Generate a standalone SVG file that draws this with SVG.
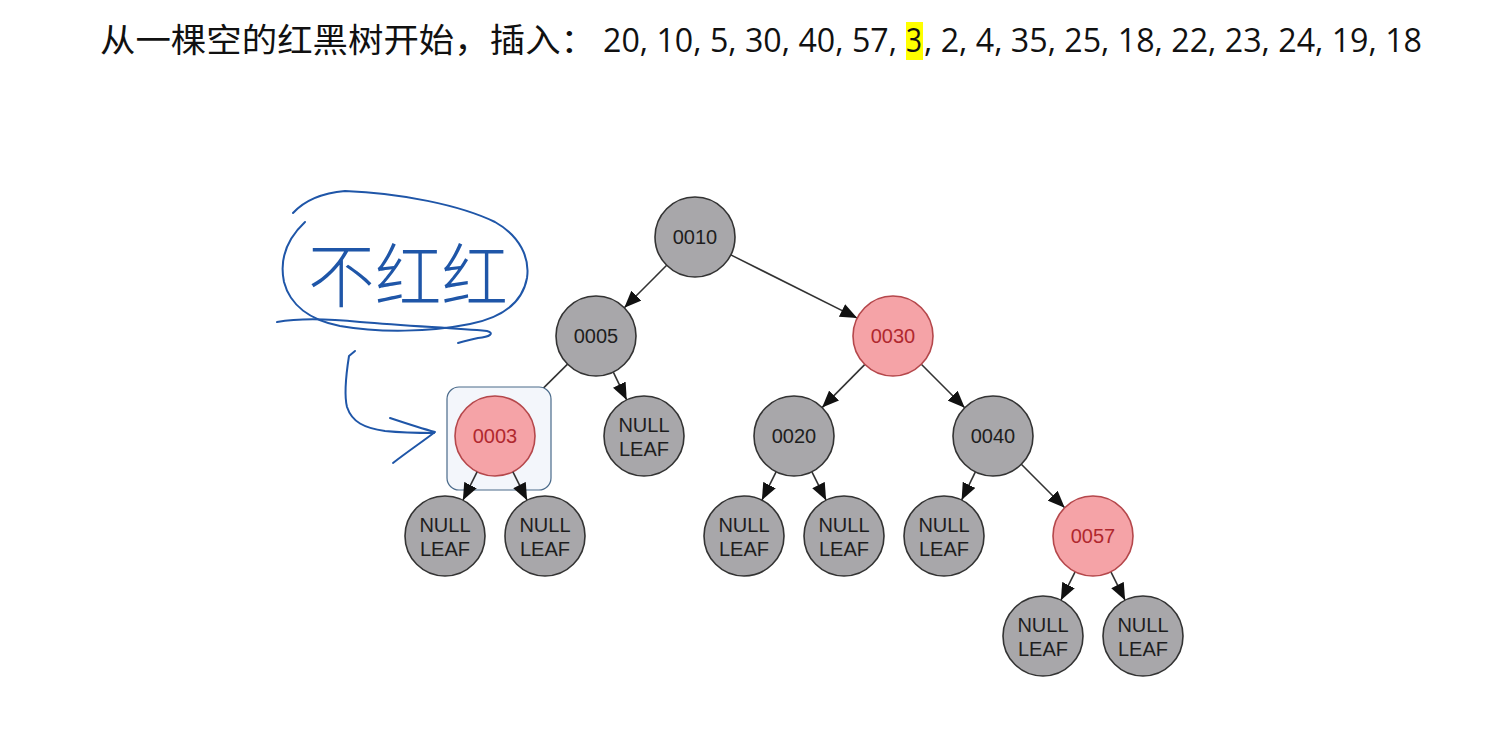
<svg xmlns="http://www.w3.org/2000/svg" width="1502" height="734" viewBox="0 0 1502 734">
<style>
.title{font-family:"Noto Sans CJK SC","Liberation Sans",sans-serif;font-size:33px;fill:#111}
.num{font-family:"Open Sans","Liberation Sans",sans-serif;font-size:32px;fill:#111}
.blk circle{fill:#a8a7aa;stroke:#333;stroke-width:1.6}
.red circle{fill:#f5a3a7;stroke:#b5474b;stroke-width:1.6}
.lbl{font-family:"Liberation Sans",Arial,sans-serif;font-size:20px;text-anchor:middle;fill:#1e1e1e}
.red .lbl{fill:#b0282e}
.edge{stroke:#333;stroke-width:1.6;fill:none;marker-end:url(#ah)}
.ink{fill:none;stroke:#1f56a8;stroke-width:2;stroke-linecap:round;stroke-linejoin:round}
.hand{font-family:"Noto Sans CJK SC",sans-serif;font-size:70px;font-weight:300;fill:#1f56a8}
</style>
<defs>
<marker id="ah" markerUnits="userSpaceOnUse" markerWidth="18" markerHeight="14" refX="17" refY="7" orient="auto">
<path d="M0,0 L17,7 L0,14 z" fill="#111"/>
</marker>
</defs>
<rect width="1502" height="734" fill="#fff"/>
<g id="title">
<rect x="906" y="22" width="17" height="38" fill="#ffff00"/>
<text class="title" x="100" y="52" textLength="496" lengthAdjust="spacingAndGlyphs">从一棵空的红黑树开始，插入：</text>
<text class="num" x="603" y="52" textLength="294" lengthAdjust="spacingAndGlyphs">20, 10, 5, 30, 40, 57,</text>
<text class="num" x="906" y="52" textLength="16" lengthAdjust="spacingAndGlyphs">3</text>
<text class="num" x="924" y="52" textLength="498" lengthAdjust="spacingAndGlyphs">, 2, 4, 35, 25, 18, 22, 23, 24, 19, 18</text>
</g>
<g id="annotation">
<path class="ink" d="M293,213 C305,200 322,193 345,191 C400,193 460,205 495,222 C520,236 530,258 527,278 C522,305 500,318 470,324 C430,332 380,333 340,326 C310,320 290,305 284,282 C279,258 288,238 305,222"/>
<path class="ink" d="M277,322 C300,318 330,319 360,322 C410,326 450,328 487,331 C495,333 490,337 478,338 C470,340 465,341 458,343"/>
<text class="hand" x="308" y="302" textLength="200" lengthAdjust="spacingAndGlyphs">不红红</text>
<path class="ink" d="M355,351 L349,356 C346,375 344,395 347,407 C352,422 364,428 385,431 C405,433 420,433 434,433"/>
<path class="ink" d="M390,418 C405,423 420,428 435,432 C422,442 407,452 393,463"/>
</g>
<g id="connectors">
<line class="edge" x1="666.7" y1="265.3" x2="624.3" y2="307.7"/>
<line class="edge" x1="730.8" y1="254.9" x2="857.2" y2="318.1"/>
<line class="edge" x1="567.6" y1="364.1" x2="523.4" y2="407.9"/>
<line class="edge" x1="613.3" y1="372.1" x2="626.7" y2="399.9"/>
<line class="edge" x1="864.9" y1="364.4" x2="822.1" y2="407.6"/>
<line class="edge" x1="921.3" y1="364.3" x2="964.7" y2="407.7"/>
<line class="edge" x1="975.4" y1="471.9" x2="961.6" y2="500.1"/>
<line class="edge" x1="1021.3" y1="464.3" x2="1064.7" y2="507.7"/>
<line class="edge" x1="776.1" y1="471.8" x2="761.9" y2="500.2"/>
<line class="edge" x1="811.9" y1="471.8" x2="826.1" y2="500.2"/>
<line class="edge" x1="1075.1" y1="571.8" x2="1060.9" y2="600.2"/>
<line class="edge" x1="1110.9" y1="571.8" x2="1125.1" y2="600.2"/>
</g>
<g id="n0010" class="blk"><circle cx="695" cy="237" r="40"/><text class="lbl" x="695" y="244">0010</text></g>
<g id="n0005" class="blk"><circle cx="596" cy="336" r="40"/><text class="lbl" x="596" y="343">0005</text></g>
<g id="n0030" class="red"><circle cx="893" cy="336" r="40"/><text class="lbl" x="893" y="343">0030</text></g>
<g id="n0003" class="red">
<rect x="447" y="387" width="104" height="103" rx="12" fill="#f3f6fb" stroke="#4a6a8a" stroke-width="1.2"/>
<circle cx="495" cy="436" r="40"/><text class="lbl" x="495" y="443">0003</text>
</g>
<g id="connectors-0003">
<line class="edge" x1="477.1" y1="471.8" x2="462.9" y2="500.2"/>
<line class="edge" x1="512.9" y1="471.8" x2="527.1" y2="500.2"/>
</g>
<g id="nnull5" class="blk"><circle cx="644" cy="436" r="40"/><text class="lbl" x="644" y="432">NULL</text><text class="lbl" x="644" y="456">LEAF</text></g>
<g id="n0020" class="blk"><circle cx="794" cy="436" r="40"/><text class="lbl" x="794" y="443">0020</text></g>
<g id="n0040" class="blk"><circle cx="993" cy="436" r="40"/><text class="lbl" x="993" y="443">0040</text></g>
<g id="nnull3a" class="blk"><circle cx="445" cy="536" r="40"/><text class="lbl" x="445" y="532">NULL</text><text class="lbl" x="445" y="556">LEAF</text></g>
<g id="nnull3b" class="blk"><circle cx="545" cy="536" r="40"/><text class="lbl" x="545" y="532">NULL</text><text class="lbl" x="545" y="556">LEAF</text></g>
<g id="nnull20a" class="blk"><circle cx="744" cy="536" r="40"/><text class="lbl" x="744" y="532">NULL</text><text class="lbl" x="744" y="556">LEAF</text></g>
<g id="nnull20b" class="blk"><circle cx="844" cy="536" r="40"/><text class="lbl" x="844" y="532">NULL</text><text class="lbl" x="844" y="556">LEAF</text></g>
<g id="nnull40" class="blk"><circle cx="944" cy="536" r="40"/><text class="lbl" x="944" y="532">NULL</text><text class="lbl" x="944" y="556">LEAF</text></g>
<g id="n0057" class="red"><circle cx="1093" cy="536" r="40"/><text class="lbl" x="1093" y="543">0057</text></g>
<g id="nnull57a" class="blk"><circle cx="1043" cy="636" r="40"/><text class="lbl" x="1043" y="632">NULL</text><text class="lbl" x="1043" y="656">LEAF</text></g>
<g id="nnull57b" class="blk"><circle cx="1143" cy="636" r="40"/><text class="lbl" x="1143" y="632">NULL</text><text class="lbl" x="1143" y="656">LEAF</text></g>
</svg>
